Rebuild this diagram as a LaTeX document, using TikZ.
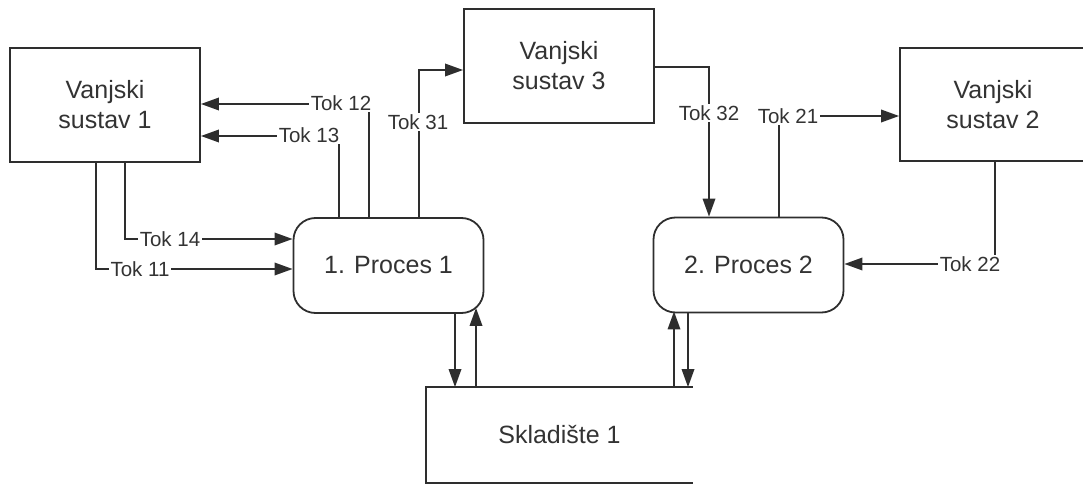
\documentclass[tikz,border=0pt]{standalone}
\usepackage{fontspec}
\setmainfont{Liberation Sans}
\usepackage{tikz}
\usetikzlibrary{arrows.meta, positioning, calc}
\colorlet{DFDline}{black!82}
\colorlet{DFDtext}{black!80}

\begin{document}
\begin{tikzpicture}[x=1pt, y=-1pt,
    extbox/.style={draw=DFDline, line width=1.8pt, text=DFDtext, align=center,
      minimum width=190pt, minimum height=114pt, inner sep=0pt,
      font=\fontsize{25}{30}\selectfont},
    procbox/.style={extbox, rounded corners=22pt, minimum width=190pt, minimum height=95pt},
    flow/.style={draw=DFDline, line width=1.8pt, -{Triangle[length=18pt, width=12.5pt]}},
    toklabel/.style={fill=white, text=DFDtext, inner sep=1.5pt, font=\fontsize{20.5}{24}\selectfont}]
        \clip (0,0) rectangle (1083,484);
        \node[extbox] (v1) at (105,105) {Vanjski\\sustav 1};
        \node[extbox] (v3) at (559,66) {Vanjski\\sustav 3};
        \node[extbox, minimum width=186pt, minimum height=113pt] (v2) at (993,104.5) {Vanjski\\sustav 2};
        \node[procbox] (p1) at (388.5,265.5) {1. Proces 1};
        \node[procbox] (p2) at (748.5,265) {2. Proces 2};
        \node[extbox, draw=none, minimum width=265pt, minimum height=94pt] (s1) at (559.5,435) {Skladište 1};
        \draw[DFDline, line width=1.8pt] (s1.north east) -- (s1.north west) -- (s1.south west) -- (s1.south east);
        \coordinate (c12) at (369,104);
        \coordinate (c13) at (339,136);
        \coordinate (c31) at (419,70);
        \coordinate (c14) at (125,239);
        \coordinate (c11) at (96,269);
        \coordinate (c32) at (709,67);
        \coordinate (c21) at (779,116);
        \coordinate (c22) at (995,264);
        \coordinate (a1) at (455,350);
        \coordinate (a2) at (476,350);
        \coordinate (a3) at (674,350);
        \coordinate (a4) at (688,350);
        \draw[flow] (p1.north -| c12) |- (v1.east |- c12);
        \draw[flow] (p1.north -| c13) |- (v1.east |- c13);
        \draw[flow] (p1.north -| c31) |- (v3.west |- c31);
        \draw[flow] (v1.south -| c14) |- (p1.west |- c14);
        \draw[flow] (v1.south -| c11) |- (p1.west |- c11);
        \draw[flow] (v3.east |- c32) -| (p2.north -| c32);
        \draw[flow] (p2.north -| c21) |- (v2.west |- c21);
        \draw[flow] (v2.south -| c22) |- (p2.east |- c22);
        \draw[flow] (p1.south -| a1) -- (s1.north -| a1);
        \draw[flow] (s1.north -| a2) -- ([yshift=6pt]p1.south -| a2);
        \draw[flow] (s1.north -| a3) -- ([yshift=2pt]p2.south -| a3);
        \draw[flow] (p2.south -| a4) -- (s1.north -| a4);
        \node[toklabel] (l12) at (341,103) {Tok 12};
        \node[toklabel] (l13) at (309,135) {Tok 13};
        \node[toklabel] (l31) at (418,122) {Tok 31};
        \node[toklabel] (l14) at (170,239) {Tok 14};
        \node[toklabel] (l11) at (140,269) {Tok 11};
        \node[toklabel] (l32) at (709,113) {Tok 32};
        \node[toklabel] (l21) at (788,116) {Tok 21};
        \node[toklabel] (l22) at (970,264) {Tok 22};
      \end{tikzpicture}
\end{document}
